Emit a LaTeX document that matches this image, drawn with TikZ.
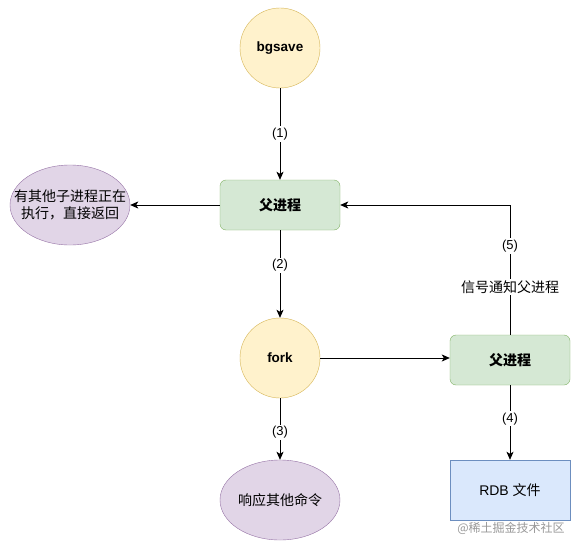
\documentclass[tikz,border=0pt]{standalone}
\usepackage{fontspec}
\setmainfont{Liberation Sans}
\newfontfamily\cjk{Noto Sans CJK SC}
\usetikzlibrary{arrows.meta,shapes.geometric}
\definecolor{yfill}{HTML}{FFF2CC}
\definecolor{ydraw}{HTML}{D6B656}
\definecolor{gfill}{HTML}{D5E8D4}
\definecolor{gdraw}{HTML}{82B366}
\definecolor{pfill}{HTML}{E1D5E7}
\definecolor{pdraw}{HTML}{9673A6}
\definecolor{bfill}{HTML}{DAE8FC}
\definecolor{bdraw}{HTML}{6C8EBF}
\begin{document}
\begin{tikzpicture}[x=1pt,y=-1pt,
  every node/.style={font=\fontsize{13}{15}\selectfont},
  yc/.style={circle,draw=ydraw,fill=yfill,minimum size=80pt,inner sep=0pt,font=\fontsize{13.5}{15}\selectfont\bfseries},
  gbox/.style={rectangle,rounded corners=6pt,draw=gdraw,fill=gfill,minimum width=120pt,minimum height=50pt,inner sep=0pt,font=\fontsize{14}{16}\selectfont\cjk\bfseries},
  pell/.style={ellipse,draw=pdraw,fill=pfill,minimum width=120pt,minimum height=80pt,inner sep=0pt},
  ctext/.style={inner sep=0pt,font=\fontsize{14}{17}\selectfont\cjk,align=center},
  bbox/.style={rectangle,draw=bdraw,fill=bfill,minimum width=120pt,minimum height=60pt,inner sep=0pt,font=\fontsize{14}{16}\selectfont},
  conn/.style={draw=black,line width=0.8pt,-{Stealth[length=8pt,width=7pt,inset=2pt]}},
  lbl/.style={fill=white,inner sep=1.5pt,font=\fontsize{13}{15}\selectfont}
]
\useasboundingbox (0,0) rectangle (581,551);
\fill[white] (0,0) rectangle (581,551);

\node[yc] (bgsave) at (280,48) {bgsave};
\node[gbox] (p1) at (280,205) {父进程};
\node[pell] (other) at (70,205) {};
\node[ctext] (otherT) at (other.center) {有其他子进程正在\\执行，直接返回};
\node[yc] (fork) at (280,358) {fork};
\node[gbox] (p2) at (510,360) {父进程};
\node[bbox] (rdb) at (510,490) {RDB {\cjk 文件}};
\node[pell] (resp) at (280,500) {};
\node[ctext] (respT) at (resp.center) {响应其他命令};
\coordinate (corner) at (510,205);

\draw[conn] (bgsave) -- node[lbl] {(1)} (p1);
\draw[conn] (p1) -- (other);
\draw[conn] (p1) -- node[lbl,pos=0.4] {(2)} (fork);
\draw[conn] (fork) -- (p2.west |- fork);
\draw[conn] (fork) -- node[lbl,pos=0.55] {(3)} (resp);
\draw[conn] (p2) -- node[lbl,pos=0.45] {(4)} (rdb);
\draw[conn] (p2.north) -- (corner) -- (p1.east);
\node[lbl] (l5) at (510,246) {(5)};
\node[lbl,font=\fontsize{14}{16}\selectfont\cjk] (l5b) at (510,287) {信号通知父进程};

\node[text=black!40,font=\fontsize{12}{14}\selectfont\cjk,inner sep=0pt] (wm) at (511,528) {@稀土掘金技术社区};
\end{tikzpicture}
\end{document}
